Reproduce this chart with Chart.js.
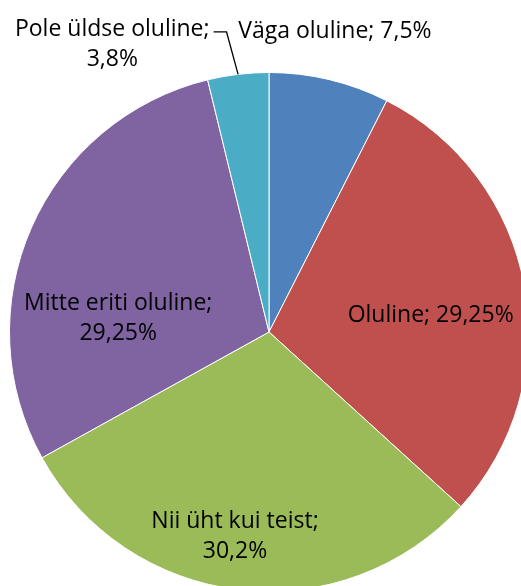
<!DOCTYPE html>
<html>
<head>
<meta charset="utf-8">
<script src="https://cdn.jsdelivr.net/npm/chart.js@4.4.0/dist/chart.umd.min.js"></script>
<style>
  html, body { margin: 0; padding: 0; background: #fff; overflow: hidden; }
  #wrap { position: absolute; left: 0; top: 0; width: 540px; height: 600px; }
</style>
</head>
<body>
<div id="wrap"><canvas id="pieChart"></canvas></div>
<script>
// data
var categories = ['Väga oluline', 'Oluline', 'Nii üht kui teist', 'Mitte eriti oluline', 'Pole üldse oluline'];
var shares = [7.5, 29.25, 30.2, 29.25, 3.8];
var sliceColors = ['#4F81BD', '#C0504D', '#9BBB59', '#8064A2', '#4BACC6'];

// where each label sits, as a fraction of the radius from the centre
var labelSpots = [[0.254, -1.158], [0.623, -0.062], [-0.131, 0.788], [-0.581, -0.054], [-0.604, -1.11]];
// label line breaks (Excel style)
var labelBreaks = [false, false, true, true, true];

function fmt(v) {
  return String(v).replace('.', ',') + '%';
}

const labelPlugin = {
  id: 'pieLabels',
  afterDatasetsDraw(chart) {
    const ctx = chart.ctx;
    const meta = chart.getDatasetMeta(0);
    ctx.save();
    ctx.font = '23px "Open Sans", Lato, sans-serif';
    ctx.fillStyle = '#000';
    ctx.textAlign = 'center';
    ctx.textBaseline = 'middle';
    meta.data.forEach(function (arc, i) {
      const R = arc.outerRadius;
      const cx = arc.x + labelSpots[i][0] * R;
      const cy = arc.y + labelSpots[i][1] * R;
      const name = categories[i] + ';';
      const val = fmt(shares[i]);
      if (labelBreaks[i]) {
        ctx.fillText(name, cx, cy - 15);
        ctx.fillText(val, cx, cy + 15);
      } else {
        ctx.fillText(name + ' ' + val, cx, cy);
      }
      // leader line for the small slice that has its label outside
      if (i === 4) {
        const w = ctx.measureText(name).width;
        const sx = cx + w / 2 + 4;
        const sy = cy - 12;
        const mid = (arc.startAngle + arc.endAngle) / 2;
        ctx.beginPath();
        ctx.strokeStyle = '#000';
        ctx.lineWidth = 1.3;
        ctx.moveTo(sx, sy);
        ctx.lineTo(sx + 13, sy);
        ctx.lineTo(arc.x + Math.cos(mid) * R, arc.y + Math.sin(mid) * R);
        ctx.stroke();
      }
    });
    ctx.restore();
  }
};

new Chart(document.getElementById('pieChart'), {
  type: 'pie',
  data: {
    labels: categories,
    datasets: [{
      data: shares,
      backgroundColor: sliceColors,
      borderColor: '#fff',
      borderWidth: 1
    }]
  },
  options: {
    responsive: true,
    maintainAspectRatio: false,
    animation: false,
    layout: {
      padding: { left: 9, top: 72, right: 11, bottom: 8 }
    },
    plugins: {
      legend: { display: false },
      tooltip: { enabled: false }
    }
  },
  plugins: [labelPlugin]
});
</script>
</body>
</html>
